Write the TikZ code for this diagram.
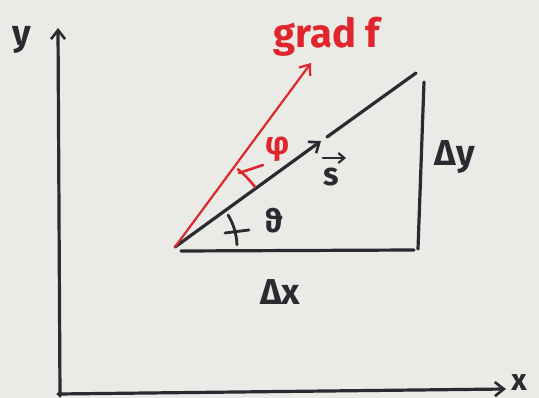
\documentclass[tikz,border=0pt]{standalone}
\usepackage{fontspec}
\setmainfont{Fira Sans}
\usetikzlibrary{arrows.meta}
\definecolor{bg}{RGB}{234,234,231}
\definecolor{ink}{RGB}{42,42,48}
\definecolor{redink}{RGB}{222,38,44}
\tikzset{
  inkline/.style={draw=ink, line width=3.2pt, line cap=round},
  redline/.style={draw=redink, line width=2.2pt, line cap=round},
  barb/.style={-{Straight Barb[length=9pt,width=14pt,line width=2.6pt]}},
  lbl/.style={inner sep=0pt, text=ink, font=\bfseries\fontsize{36}{38}\selectfont},
  redlbl/.style={inner sep=0pt, text=redink, font=\bfseries\fontsize{40}{42}\selectfont},
}
\begin{document}
\begin{tikzpicture}[x=1pt,y=-1pt]
\fill[bg] (0,0) rectangle (539,398);
\useasboundingbox (0,0) rectangle (539,398);
% coordinates
\coordinate (O) at (175,247);
\coordinate (yb) at (60,396);
\coordinate (yt) at (58,28);
\coordinate (xl) at (58,394);
\coordinate (xr) at (506,389);
\coordinate (bl) at (181,251);
\coordinate (br) at (414,250);
\coordinate (rt) at (424,82);
\coordinate (rb) at (418,249);
\coordinate (S) at (321,141);
\coordinate (G) at (327,137);
\coordinate (T) at (416,73);
\coordinate (R) at (311,63);
% axes
\draw[inkline, barb] (yb) -- (yt);
\draw[inkline, barb] (xl) -- (xr);
% triangle
\draw[inkline] (bl) -- (br);
\draw[inkline] (rt) -- (rb);
\draw[inkline] (G) -- (T);
\draw[inkline, barb] (O) -- (S);
% gradient
\draw[redline, -{Straight Barb[length=9pt,width=14pt,line width=2.2pt]}] (O) -- (R);
% angle marks
\draw[inkline, line width=2.8pt] ([shift={(-2:62)}]O) arc[start angle=-2, end angle=-31, radius=62];
\draw[inkline, line width=2.8pt] (225,233) -- (249,230);
\draw[redline, line width=2.6pt] ([shift={(-37:100)}]O) arc[start angle=-37, end angle=-51, radius=100];
\draw[redline, line width=2.6pt] (239,173) -- (263,165);
% labels
\node[lbl, font=\bfseries\fontsize{36}{38}\selectfont] (ylab) at (22,40) {y};
\node[lbl, font=\bfseries\fontsize{30}{32}\selectfont] (xlab) at (519,383) {x};
\node[redlbl] (grad) at (327,37) {grad f};
\node[redlbl, font=\bfseries\fontsize{32}{34}\selectfont] (phi) at (278,149) {φ};
\node[lbl, font=\bfseries\fontsize{32}{34}\selectfont] (theta) at (274,221) {ϑ};
\node[lbl, font=\bfseries\fontsize{32}{34}\selectfont] (s) at (331,177) {s};
\coordinate (sa) at (323,158);
\coordinate (sb) at (346,158);
\draw[draw=ink, line width=2.8pt, line cap=round, -{Straight Barb[length=6pt,width=10pt,line width=2.2pt]}] (sa) -- (sb);
\node[lbl] (dy) at (455,157) {Δy};
\node[lbl] (dx) at (280,292) {Δx};
\end{tikzpicture}
\end{document}
